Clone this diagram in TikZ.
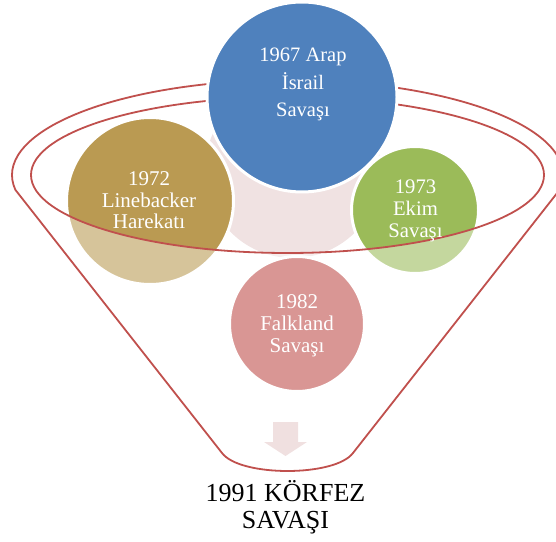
\documentclass[tikz,border=0pt]{standalone}
\usepackage{fontspec}
\setmainfont{Liberation Serif}
\definecolor{warblue}{HTML}{4F81BD}
\definecolor{wargold}{HTML}{BA9A52}
\definecolor{wargreen}{HTML}{9BBB59}
\definecolor{warrose}{HTML}{D99694}
\definecolor{mouthpink}{HTML}{F0E2E2}
\definecolor{arrowpink}{HTML}{F0E0E0}
\definecolor{rimred}{HTML}{C0504D}
\begin{document}
\begin{tikzpicture}[x=1pt,y=1pt,
  bubble/.style={circle, draw=white, line width=3pt, inner sep=0pt},
  rim/.style={draw=rimred, line width=1.8pt, line join=round},
  bubbletext/.style={text=white, align=center, anchor=base, inner sep=0pt},
  resulttext/.style={text=black, align=center, anchor=base, inner sep=0pt}]
\useasboundingbox (0,0) rectangle (556,541);

% faint disc in the mouth of the funnel
\node[circle, fill=mouthpink, inner sep=0pt, minimum size=176] (mouth) at (293,371) {};

% the two events falling into the funnel
\node[bubble, fill=wargold,  minimum size=167] (gold)  at (150,340) {};
\node[bubble, fill=wargreen, minimum size=127] (green) at (415,331) {};

% pale front wall of the funnel, below the inner rim
\fill[white, fill opacity=0.42, even odd rule]
  (15.5,351) -- (222,88) .. controls (240,64) and (335,64) .. (353,88)
  -- (559.5,351) arc[start angle=-9.1, end angle=189.1, x radius=275.5pt, y radius=95pt] -- cycle
  (287.5,366) ellipse[x radius=256.5pt, y radius=78pt];

% event inside the funnel
\node[bubble, fill=warrose, minimum size=135] (rose) at (297,217) {};

% funnel outline and inner rim
\draw[rim] (15.5,351) -- (222,88) .. controls (240,64) and (335,64) .. (353,88)
  -- (559.5,351) arc[start angle=-9.1, end angle=189.1, x radius=275.5pt, y radius=95pt] -- cycle;
\draw[rim] (287.5,366) ellipse[x radius=256.5pt, y radius=78pt];

% top event, in front of the back of the rim
\node[bubble, fill=warblue, minimum size=190] (blue) at (302,444) {};

% arrow towards the outcome
\fill[arrowpink] (273,119) -- (298,119) -- (298,99) -- (307,99) -- (285.5,85)
  -- (264,99) -- (273,99) -- cycle;

% labels (anchored on the baseline of their last line)
\node[bubbletext, font=\fontsize{20.5}{27.5}\selectfont] (bluelabel) at (303,424)
  {1967 Arap\\İsrail\\Savaşı};
\node[bubbletext, font=\fontsize{21}{21.5}\selectfont] (goldlabel) at (149,312)
  {1972\\Linebacker\\Harekatı};
\node[bubbletext, font=\fontsize{20.7}{22}\selectfont] (greenlabel) at (415.5,303)
  {1973\\Ekim\\Savaşı};
\node[bubbletext, font=\fontsize{21}{21.5}\selectfont] (roselabel) at (297,189)
  {1982\\Falkland\\Savaşı};
\node[resulttext, font=\fontsize{26}{26.5}\selectfont] (result) at (285.5,13)
  {1991 KÖRFEZ\\SAVAŞI};
\end{tikzpicture}
\end{document}
